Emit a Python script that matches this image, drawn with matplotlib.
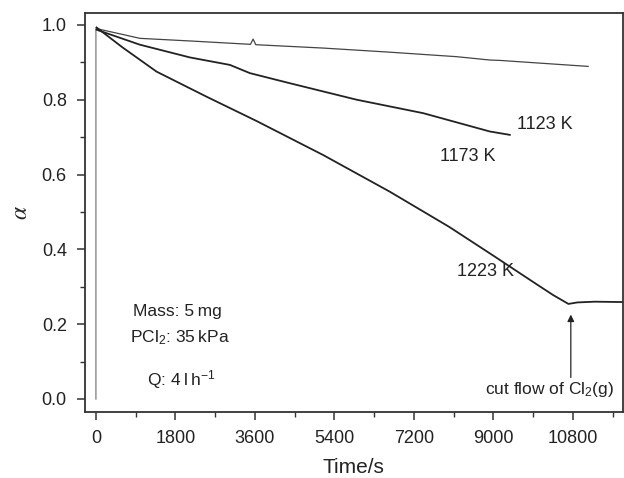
import matplotlib
matplotlib.use("Agg")
import matplotlib.pyplot as plt
from matplotlib.ticker import MultipleLocator, FormatStrFormatter

plt.rcParams['font.family'] = ['Liberation Sans', 'DejaVu Sans']
plt.rcParams['mathtext.fontset'] = 'custom'
plt.rcParams['mathtext.rm'] = 'Liberation Sans'
plt.rcParams['mathtext.it'] = 'Liberation Sans:italic'

# Data
t_1223 = [15, 600, 1374, 2506, 3638, 5147, 6656, 8000, 9000, 10000, 10350, 10700, 10900, 11300, 11930]
a_1223 = [0.993, 0.940, 0.875, 0.808, 0.743, 0.652, 0.554, 0.460, 0.383, 0.305, 0.278, 0.254, 0.258, 0.260, 0.259]

t_1173 = [15, 996, 2128, 3034, 3487, 4392, 5902, 7410, 8920, 9373]
a_1173 = [0.987, 0.947, 0.913, 0.893, 0.871, 0.844, 0.800, 0.764, 0.715, 0.706]

t_1123 = [15, 996, 2128, 3500, 3560, 3620, 5147, 6656, 8166, 8920, 9147, 11146]
a_1123 = [0.990, 0.964, 0.957, 0.948, 0.962, 0.947, 0.938, 0.927, 0.915, 0.906, 0.905, 0.889]

jump_t = [0, 0, 15]
jump_a = [0.0, 0.99, 0.993]

x_ticks = [0, 1800, 3600, 5400, 7200, 9000, 10800]
y_ticks = [0.0, 0.2, 0.4, 0.6, 0.8, 1.0]

fig = plt.figure(figsize=(6.24, 4.78), dpi=100)
ax = fig.add_axes([0.136, 0.138, 0.862, 0.835])

ax.plot(jump_t, jump_a, color='#888888', lw=1.0)
ax.plot(t_1123, a_1123, color='#444444', lw=0.9)
ax.plot(t_1173, a_1173, color='#222222', lw=1.3)
ax.plot(t_1223, a_1223, color='#222222', lw=1.3)

ax.set_xlim(-250, 11930)
ax.set_ylim(-0.035, 1.032)
ax.set_xticks(x_ticks)
ax.set_yticks(y_ticks)
ax.xaxis.set_minor_locator(MultipleLocator(900))
ax.yaxis.set_minor_locator(MultipleLocator(0.1))
ax.yaxis.set_major_formatter(FormatStrFormatter('%.1f'))
ax.tick_params(which='major', direction='out', length=6, width=1.1, labelsize=13,
               colors='#333333', labelcolor='#222222', pad=7)
ax.tick_params(which='minor', direction='out', length=3.5, width=1.0, colors='#333333')
ax.tick_params(top=False, right=False, which='both')
for s in ax.spines.values():
    s.set_linewidth(1.3)
    s.set_color('#333333')

ax.set_xlabel('Time/s', fontsize=15, color='#222222', labelpad=8)
ylab = ax.set_ylabel(r'$\alpha$', fontsize=17, color='#222222', labelpad=7)
ylab.set_math_fontfamily('stix')

fs = 13
fs2 = 12.5
ts = '\u2009'
ax.text(9531, 0.733, '1123 K', fontsize=fs, va='center', ha='left', color='#222222')
ax.text(7788, 0.647, '1173 K', fontsize=fs, va='center', ha='left', color='#222222')
ax.text(8173, 0.340, '1223 K', fontsize=fs, va='center', ha='left', color='#222222')
ax.text(838, 0.233, 'Mass: 5' + ts + 'mg', fontsize=fs2, va='center', ha='left', color='#222222')
ax.text(770, 0.163, r'PCl$_2$: 35' + ts + 'kPa', fontsize=fs2, va='center', ha='left', color='#222222')
ax.text(1155, 0.053, 'Q: 4' + ts + 'l' + ts + r'h$^{-1}$', fontsize=fs2, va='center', ha='left', color='#222222')
ax.text(8807, 0.024, r'cut flow of Cl$_2$(g)', fontsize=fs2, va='center', ha='left', color='#222222')
ax.annotate('', xy=(10754, 0.233), xytext=(10754, 0.05),
            arrowprops=dict(arrowstyle='-|>', color='#222222', lw=0.9,
                            mutation_scale=10))

fig.savefig('out.png', dpi=100)
